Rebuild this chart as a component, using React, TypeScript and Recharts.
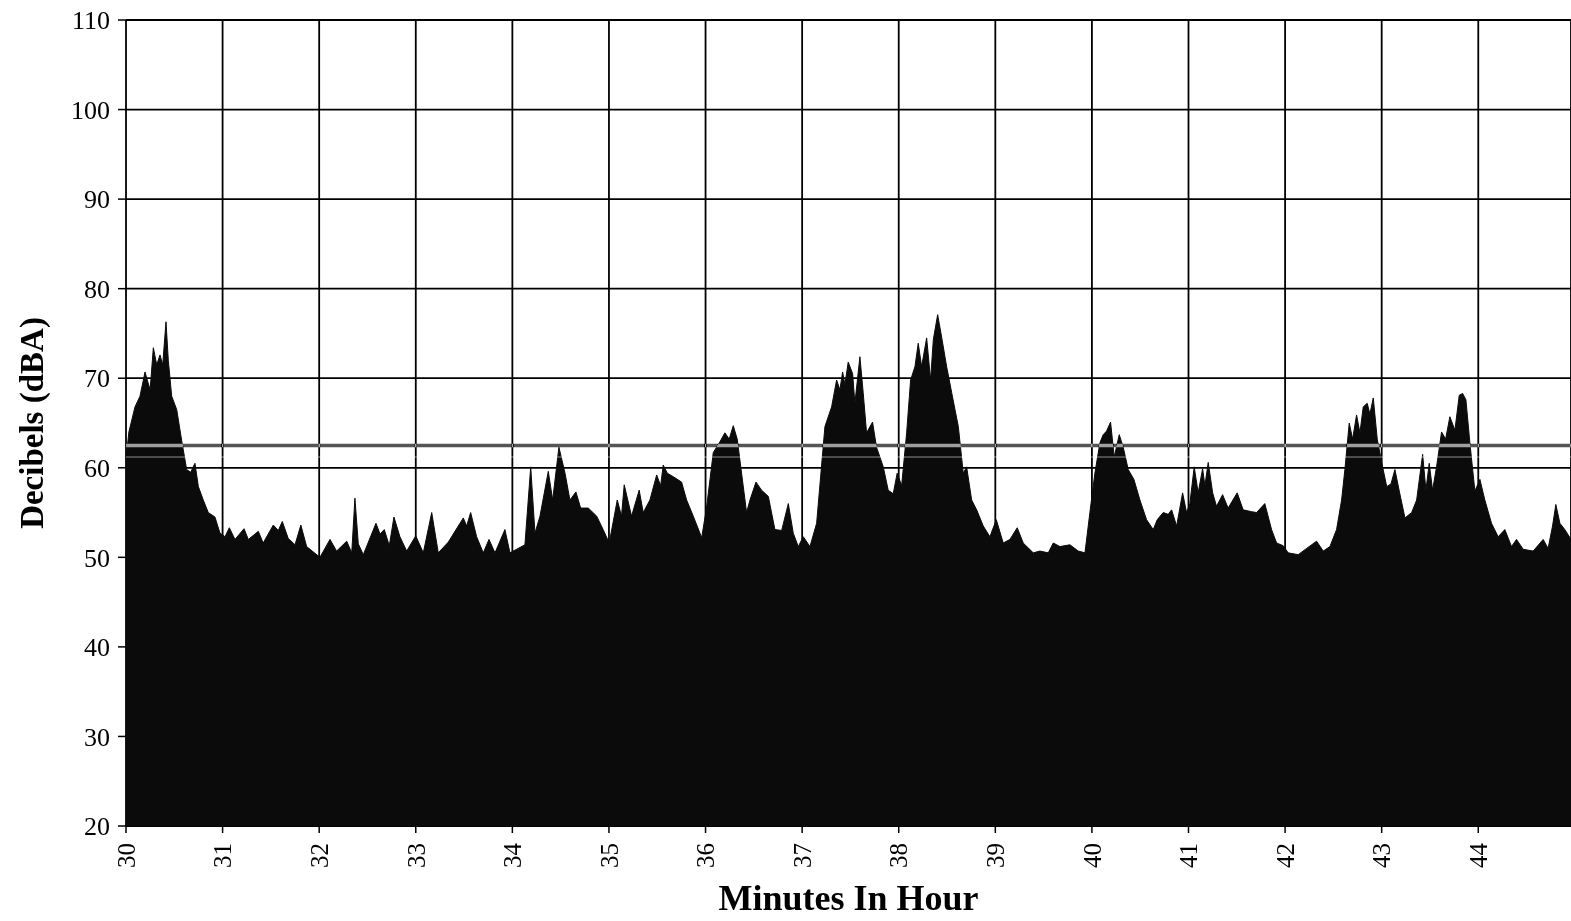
import { Area, AreaChart, CartesianGrid, ReferenceLine, XAxis, YAxis } from "recharts";

// sample times (minutes in hour) and levels (dBA)
const minutes = [
  30, 30.03, 30.093, 30.145, 30.197, 30.22, 30.25, 30.283, 30.318, 30.352, 30.38, 30.414, 30.438, 30.473, 30.525, 30.577, 30.628, 30.67, 30.714, 30.749, 30.8, 30.852, 30.921, 30.973,
  31.025, 31.07, 31.128, 31.222, 31.266, 31.37, 31.42, 31.525, 31.577, 31.618, 31.68, 31.75, 31.81, 31.87,
  32.008, 32.112, 32.18, 32.285, 32.337, 32.37, 32.405, 32.457, 32.588, 32.63, 32.674, 32.726, 32.774, 32.836, 32.906,
  33.0, 33.078, 33.165, 33.233, 33.337, 33.492, 33.527, 33.568, 33.63, 33.699, 33.758, 33.82, 33.923, 33.975,
  34.044, 34.13, 34.19, 34.234, 34.286, 34.372, 34.417, 34.482, 34.545, 34.596, 34.658, 34.707, 34.786, 34.873, 34.94,
  35.003, 35.086, 35.13, 35.158, 35.234, 35.313, 35.355, 35.424, 35.494, 35.535, 35.562, 35.604, 35.666, 35.752, 35.804, 35.873, 35.96,
  36.01, 36.08, 36.149, 36.2, 36.245, 36.287, 36.328, 36.373, 36.425, 36.46, 36.522, 36.58, 36.65, 36.718, 36.788, 36.857, 36.908, 36.96,
  37.012, 37.081, 37.15, 37.236, 37.305, 37.357, 37.391, 37.419, 37.443, 37.477, 37.523, 37.546, 37.598, 37.632, 37.667, 37.729, 37.77, 37.84, 37.891, 37.943, 37.984,
  38.03, 38.082, 38.123, 38.168, 38.202, 38.237, 38.289, 38.33, 38.358, 38.403, 38.444, 38.496, 38.548, 38.617, 38.668, 38.703, 38.755, 38.807, 38.875, 38.944,
  39.01, 39.082, 39.151, 39.227, 39.289, 39.393, 39.462, 39.548, 39.6, 39.669, 39.772, 39.859, 39.928, 39.979,
  40.031, 40.083, 40.117, 40.152, 40.193, 40.231, 40.283, 40.324, 40.376, 40.435, 40.497, 40.566, 40.635, 40.676, 40.738, 40.79, 40.825, 40.877, 40.939, 40.98,
  41.014, 41.059, 41.1, 41.146, 41.17, 41.204, 41.25, 41.29, 41.353, 41.41, 41.504, 41.566, 41.653, 41.705, 41.79, 41.86, 41.912, 41.98,
  42.032, 42.136, 42.223, 42.326, 42.395, 42.464, 42.533, 42.585, 42.619, 42.664, 42.699, 42.74, 42.775, 42.809, 42.85, 42.878, 42.913, 42.954,
  43.0, 43.052, 43.096, 43.137, 43.182, 43.241, 43.31, 43.362, 43.424, 43.458, 43.492, 43.527, 43.568, 43.62, 43.662, 43.706, 43.758, 43.803, 43.838, 43.872, 43.913, 43.965,
  44.017, 44.068, 44.137, 44.206, 44.275, 44.344, 44.396, 44.465, 44.568, 44.672, 44.723, 44.769, 44.803, 44.845, 44.896, 44.96,
];

const levels = [
  61, 64, 66.8, 68, 70.7, 69.8, 68.7, 73.4, 71.5, 72.6, 71.5, 76.3, 72, 68, 66.5, 63, 59.8, 59.5, 60.5, 57.9, 56.4, 55, 54.5, 52.7,
  52.3, 53.3, 52, 53.2, 52, 52.9, 51.6, 53.6, 53, 54, 52.1, 51.4, 53.6, 51.2,
  50, 52, 50.7, 51.8, 50.5, 56.6, 51.5, 50.3, 53.8, 52.6, 53.1, 51.3, 54.5, 52.3, 50.7,
  52.4, 50.5, 55, 50.5, 51.7, 54.4, 53.5, 55, 52.3, 50.5, 52, 50.5, 53.1, 50.5,
  50.9, 51.4, 60.1, 52.7, 54.6, 59.6, 56.4, 62.3, 59.4, 56.4, 57.3, 55.5, 55.5, 54.6, 53.1,
  51.6, 56.4, 54.6, 58.1, 54.6, 57.5, 55, 56.4, 59.2, 58, 60.3, 59.4, 59, 58.4, 56.4, 54.6, 52.2,
  55.5, 61.7, 62.9, 63.9, 63.2, 64.7, 63.2, 59.4, 55, 56.4, 58.4, 57.5, 56.8, 53.1, 53, 56, 52.7, 51.2,
  52.3, 51.2, 53.8, 64.6, 66.8, 69.8, 68.7, 70.7, 69.3, 71.8, 70.5, 67.2, 72.4, 68.4, 63.9, 65.1, 62.3, 60.1, 57.5, 57.1, 59.4,
  58, 63.9, 69.8, 71.3, 73.9, 71.3, 74.5, 69.8, 74.3, 77.1, 74.6, 71.3, 68.4, 64.6, 59.4, 60.1, 56.4, 55.3, 53.5, 52.3,
  54.2, 51.6, 52, 53.3, 51.6, 50.5, 50.7, 50.5, 51.6, 51.2, 51.4, 50.7, 50.5, 55,
  59.4, 62.8, 63.7, 64.1, 65.1, 61.2, 63.7, 62.3, 59.8, 58.7, 56.4, 54.2, 53.1, 54.2, 55, 54.8, 55.3, 53.5, 57.2, 55,
  56, 60.1, 57.2, 59.9, 58, 60.6, 57.2, 55.7, 57, 55.5, 57.2, 55.3, 55.1, 55, 56, 53.1, 51.6, 51.3,
  50.5, 50.3, 51, 51.8, 50.7, 51.2, 53.1, 56.4, 59.8, 65, 63.2, 65.9, 63.9, 66.8, 67.2, 66, 67.8, 63.2,
  60.6, 57.9, 58.2, 59.8, 57.4, 54.4, 55, 56.4, 61.5, 57.5, 60.5, 57.5, 60.1, 64, 63.2, 65.7, 64.2, 68.1, 68.3, 67.6, 62.8, 57.4,
  58.7, 56.4, 53.8, 52.3, 53.1, 51.2, 52, 50.9, 50.7, 52, 51, 53.5, 55.9, 53.8, 53.1, 52,
];

const xTicks = [30, 31, 32, 33, 34, 35, 36, 37, 38, 39, 40, 41, 42, 43, 44];
const yTicks = [20, 30, 40, 50, 60, 70, 80, 90, 100, 110];
const leqLevel = 62.5;
const lowerLevel = 61.2;

const data = minutes.map((m, i) => ({ minute: m, dBA: levels[i] }));

const FONT = '"Liberation Serif", "Times New Roman", serif';

function XTick({ x, y, payload }: { x?: number; y?: number; payload?: { value: number } }) {
  return (
    <g transform={`translate(${x},${y})`}>
      <text transform="rotate(-90)" textAnchor="end" dy="0.35em" fontSize={25} fontFamily={FONT} fill="#000">
        {payload?.value}
      </text>
    </g>
  );
}

export default function App() {
  return (
    <div style={{ position: "absolute", left: 0, top: 0, width: 1571, height: 921, background: "#fff" }}>
      <style>{`.leq-line { mix-blend-mode: difference; } .low-line { mix-blend-mode: screen; }`}</style>
      <AreaChart width={1571} height={921} data={data} margin={{ top: 20, right: 0, bottom: 0, left: 0 }}>
        <CartesianGrid stroke="#000" strokeWidth={1.8} />
        <XAxis
          dataKey="minute" type="number" domain={[30, 44.96]} ticks={xTicks} interval={0}
          allowDataOverflow height={95} axisLine={false}
          tickSize={7} tickMargin={10} tickLine={{ stroke: "#000", strokeWidth: 1.5 }}
          tick={<XTick />}
          label={{ value: "Minutes In Hour", position: "insideBottom", offset: 11,
            style: { fontFamily: FONT, fontWeight: 700, fontSize: 36, fill: "#000" } }}
        />
        <YAxis
          type="number" domain={[20, 110]} ticks={yTicks} interval={0} width={126}
          axisLine={false} tickSize={8} tickMargin={8}
          tickLine={{ stroke: "#000", strokeWidth: 1.5 }}
          tick={{ fontFamily: FONT, fontSize: 26, fill: "#000" }}
          label={{ value: "Decibels (dBA)", angle: -90, position: "insideLeft", offset: 31,
            style: { fontFamily: FONT, fontWeight: 700, fontSize: 33, fill: "#000", textAnchor: "middle" } }}
        />
        <Area
          type="linear" dataKey="dBA" fill="#0b0b0b" fillOpacity={1}
          stroke="#0b0b0b" strokeWidth={1} isAnimationActive={false} dot={false} activeDot={false}
        />
        <ReferenceLine y={lowerLevel} stroke="#8a8a8a" strokeWidth={1} className="low-line" />
        <ReferenceLine y={leqLevel} stroke="#aaaaaa" strokeWidth={3.5} className="leq-line" />
      </AreaChart>
    </div>
  );
}
